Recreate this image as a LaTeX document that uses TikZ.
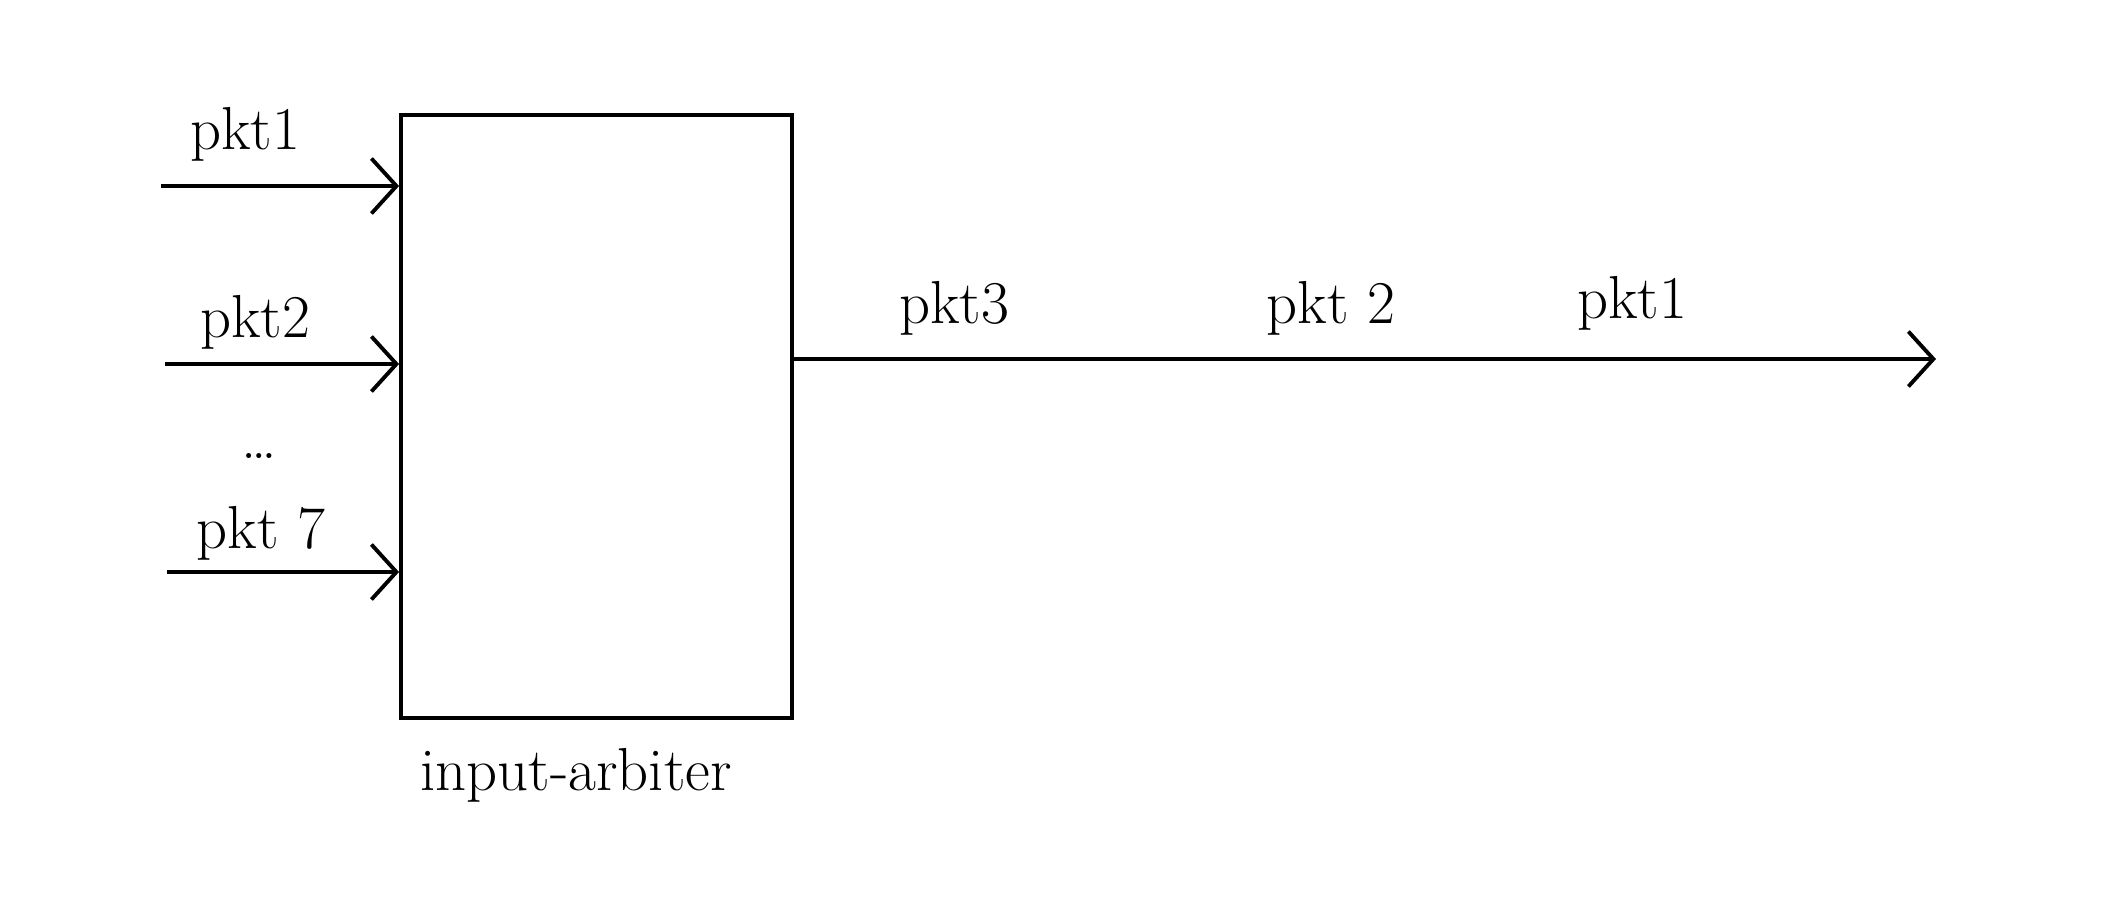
\documentclass[tikz,border=0pt]{standalone}
\usepackage{tikz}
\usetikzlibrary{arrows.meta,positioning}

\tikzset{
  pktlabel/.style={font=\LARGE},
  flow/.style={-{Straight Barb[length=0.25cm,width=0.55cm]},line width=1.1pt}
}

\begin{document}
\begin{tikzpicture}
  \useasboundingbox (0,0) rectangle (21.01,9.11);
  \node[draw,line width=1.1pt,minimum width=3.91cm,minimum height=6.03cm,inner sep=0pt] (arbiter) at (5.965,4.945) {};
  \node[pktlabel] (arblabel) at (5.76,1.36) {input-arbiter};
  % inputs
  \coordinate (src1) at (1.61,7.25);
  \coordinate (src2) at (1.65,5.47);
  \coordinate (src7) at (1.67,3.39);
  \draw[flow] (src1) -- (arbiter.west |- src1);
  \draw[flow] (src2) -- (arbiter.west |- src2);
  \draw[flow] (src7) -- (arbiter.west |- src7);
  \node[pktlabel] (in1) at (2.45,7.77) {pkt1};
  \node[pktlabel] (in2) at (2.55,5.89) {pkt2};
  \node[pktlabel] (indots) at (2.59,4.55) {\ldots};
  \node[pktlabel] (in7) at (2.61,3.78) {pkt 7};
  % output
  \coordinate (sink) at (19.36,5.52);
  \draw[flow] (arbiter.east |- sink) -- (sink);
  \node[pktlabel] (out3) at (9.54,6.03) {pkt3};
  \node[pktlabel] (out2) at (13.31,6.03) {pkt 2};
  \node[pktlabel] (out1) at (16.32,6.08) {pkt1};
\end{tikzpicture}
\end{document}
